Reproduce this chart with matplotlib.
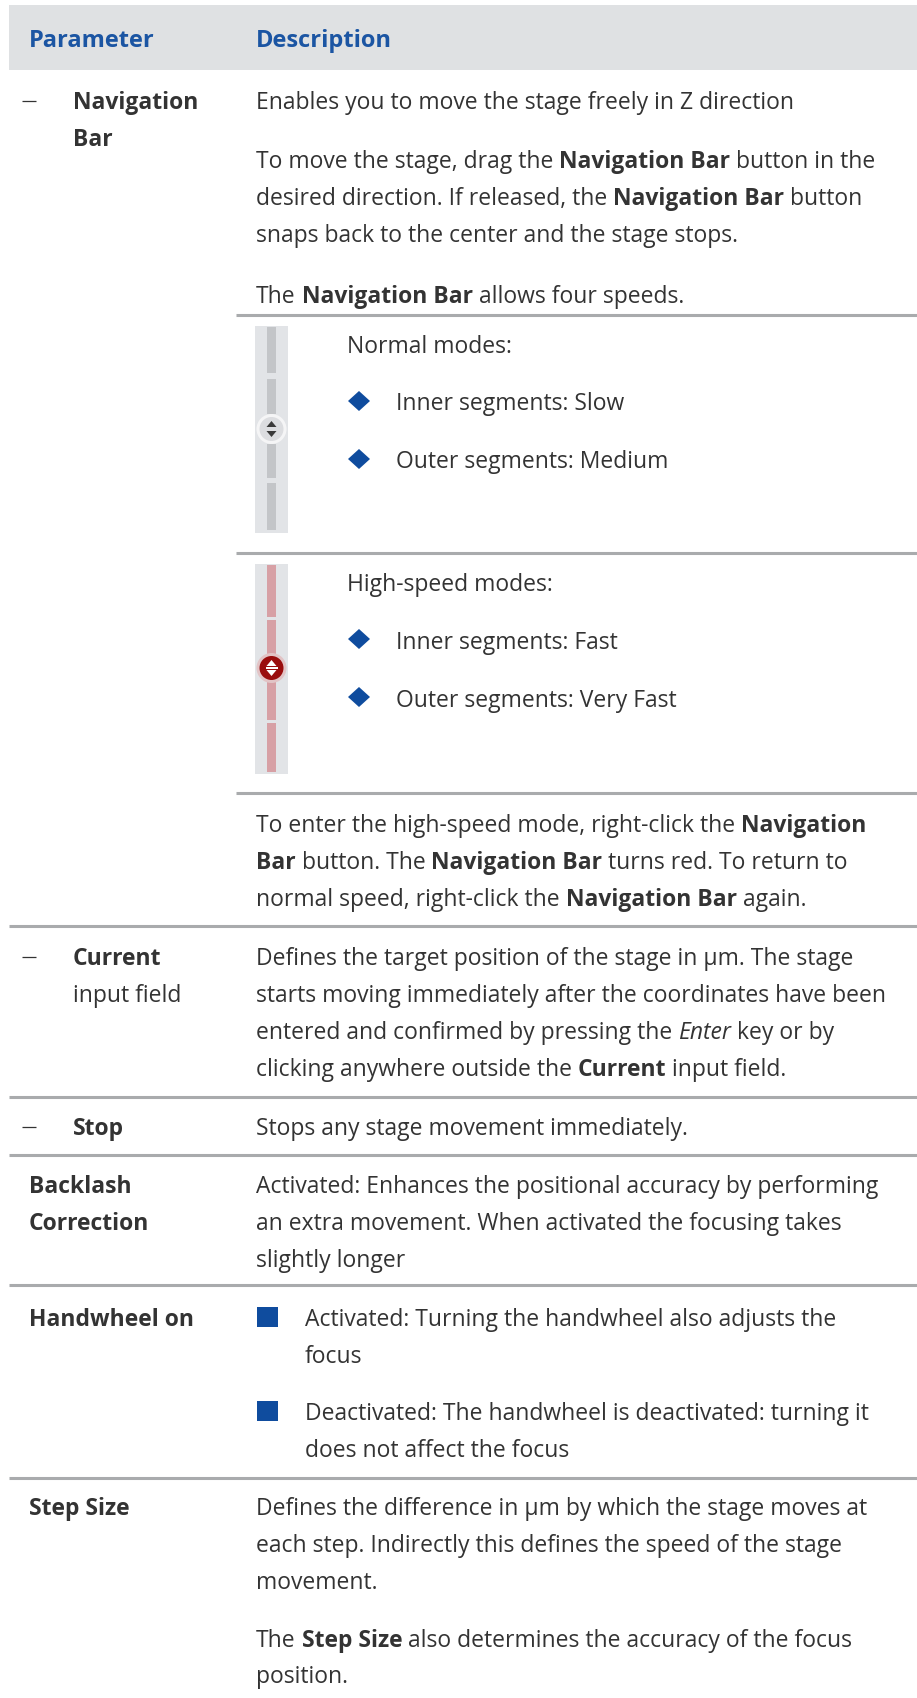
import matplotlib
matplotlib.use("Agg")
import matplotlib.pyplot as plt
from matplotlib.patches import Rectangle, Circle, Polygon

W, H = 917, 1698
TEXT = "#333333"
HEAD = "#1b55a3"
RULE = "#a9abad"
BAND = "#dfe1e3"
BULLET = "#0f4c9e"

plt.rcParams['font.family'] = ['Open Sans', 'DejaVu Sans']

# table content (runs: text, style  r=regular b=bold i=italic)
header = ["Parameter", "Description"]

nav_label = ["Navigation", "Bar"]
nav_desc = [
    [("Enables you to move the stage freely in Z direction", "r")],
    [("To move the stage, drag the ", "r"), ("Navigation Bar", "b"), (" button in the", "r")],
    [("desired direction. If released, the ", "r"), ("Navigation Bar", "b"), (" button", "r")],
    [("snaps back to the center and the stage stops.", "r")],
    [("The ", "r"), ("Navigation Bar", "b"), (" allows four speeds.", "r")],
]
normal_title = "Normal modes:"
normal_items = ["Inner segments: Slow", "Outer segments: Medium"]
fast_title = "High-speed modes:"
fast_items = ["Inner segments: Fast", "Outer segments: Very Fast"]
nav_outro = [
    [("To enter the high-speed mode, right-click the ", "r"), ("Navigation", "b")],
    [("Bar", "b"), (" button. The ", "r"), ("Navigation Bar", "b"), (" turns red. To return to", "r")],
    [("normal speed, right-click the ", "r"), ("Navigation Bar", "b"), (" again.", "r")],
]

cur_label = [("Current", "b"), ("input field", "r")]
cur_desc = [
    [("Defines the target position of the stage in µm. The stage", "r")],
    [("starts moving immediately after the coordinates have been", "r")],
    [("entered and confirmed by pressing the ", "r"), ("Enter", "i"), (" key or by", "r")],
    [("clicking anywhere outside the ", "r"), ("Current", "b"), (" input field.", "r")],
]

stop_label = "Stop"
stop_desc = "Stops any stage movement immediately."

back_label = ["Backlash", "Correction"]
back_desc = [
    "Activated: Enhances the positional accuracy by performing",
    "an extra movement. When activated the focusing takes",
    "slightly longer",
]

hand_label = "Handwheel on"
hand_items = [
    ["Activated: Turning the handwheel also adjusts the", "focus"],
    ["Deactivated: The handwheel is deactivated: turning it", "does not affect the focus"],
]

step_label = "Step Size"
step_desc = [
    [("Defines the difference in µm by which the stage moves at", "r")],
    [("each step. Indirectly this defines the speed of the stage", "r")],
    [("movement.", "r")],
]
step_extra = [
    [("The ", "r"), ("Step Size", "b"), (" also determines the accuracy of the focus", "r")],
    [("position.", "r")],
]

fig = plt.figure(figsize=(W / 100, H / 100), dpi=100)
ax = fig.add_axes([0, 0, 1, 1])
ax.set_xlim(0, W)
ax.set_ylim(H, 0)
ax.axis('off')
renderer = fig.canvas.get_renderer()

FS = 16.5
LH = 37
X_DESC = 256
X_PAR = 29
X_SUB = 73


def style_kw(st):
    if st == 'b':
        return dict(fontweight='bold')
    if st == 'i':
        return dict(fontstyle='italic')
    return {}


def width_of(s, kw, size):
    t = ax.text(0, 0, s, fontsize=size, **kw)
    w = t.get_window_extent(renderer).width
    t.remove()
    return w


def space_w(kw, size):
    return width_of("x x", kw, size) - width_of("xx", kw, size)


def draw_runs(x, y, runs, size=FS, color=TEXT):
    for txt, st in runs:
        kw = style_kw(st)
        if txt.startswith(' '):
            x += space_w(kw, size)
        core = txt.strip()
        if core:
            t = ax.text(x, y, core, fontsize=size, color=color,
                        va='baseline', ha='left', **kw)
            x += t.get_window_extent(renderer).width
        if txt.endswith(' '):
            x += space_w(kw, size)


def text(x, y, s, st='r', size=FS, color=TEXT):
    ax.text(x, y, s, fontsize=size, color=color, va='baseline', ha='left',
            **style_kw(st))


def dash(y):
    ax.plot([22, 36], [y - 8, y - 8], color=TEXT, lw=0.9, solid_capstyle='butt')


def rule(y, x0=9, x1=W):
    ax.plot([x0, x1], [y, y], color=RULE, lw=2.2, solid_capstyle='butt')


def diamond(cx, cy):
    ax.add_patch(Polygon([(cx - 11, cy), (cx, cy - 10), (cx + 11, cy), (cx, cy + 10)],
                         closed=True, color=BULLET, lw=0))


def slider(y0, y1, segs, ky, line_col, knob_col, arrow_col, halo_col):
    ax.add_patch(Rectangle((255, y0), 33, y1 - y0, color="#e2e4e7", lw=0))
    for a, b in segs:
        ax.add_patch(Rectangle((267, a), 9, b - a, color=line_col, lw=0))
    cx = 271.5
    ax.add_patch(Circle((cx, ky), 15, color=halo_col, lw=0))
    ax.add_patch(Circle((cx, ky), 12, color=knob_col, lw=0))
    ax.add_patch(Polygon([(cx - 5, ky - 2), (cx + 5, ky - 2), (cx, ky - 8)],
                         closed=True, color=arrow_col, lw=0))
    ax.add_patch(Polygon([(cx - 5, ky + 2), (cx + 5, ky + 2), (cx, ky + 8)],
                         closed=True, color=arrow_col, lw=0))


# header
ax.add_patch(Rectangle((9, 5), W - 9, 65, color=BAND, lw=0))
text(X_PAR, 47, header[0], 'b', size=17, color=HEAD)
text(X_DESC, 47, header[1], 'b', size=17, color=HEAD)

# Navigation Bar
dash(109)
text(X_SUB, 109, nav_label[0], 'b')
text(X_SUB, 146, nav_label[1], 'b')
draw_runs(X_DESC, 109, nav_desc[0])
for i, line in enumerate(nav_desc[1:4]):
    draw_runs(X_DESC, 168 + i * LH, line)
draw_runs(X_DESC, 303, nav_desc[4])
rule(315, 236)

slider(326, 533, [(327, 373), (379, 414), (444, 478), (483, 530)], 429,
       "#c3c5c8", "#dcdde0", "#3a3a3a", "#f5f5f6")
text(347, 353, normal_title)
for i, item in enumerate(normal_items):
    diamond(359, 401 + i * 58)
    text(396, 410 + i * 58, item)
rule(553, 236)

slider(564, 774, [(565, 617), (620, 655), (681, 720), (723, 772)], 668,
       "#d7a0a5", "#9a0d0d", "white", "#e2c4c6")
ax.add_patch(Rectangle((265.5, 667), 12, 2, color="white", lw=0))
text(347, 591, fast_title)
for i, item in enumerate(fast_items):
    diamond(359, 639 + i * 58)
    text(396, 649 + i * 58, item)
rule(793, 236)

for i, line in enumerate(nav_outro):
    draw_runs(X_DESC, 832 + i * LH, line)
rule(926)

# Current input field
dash(965)
text(X_SUB, 965, cur_label[0][0], 'b')
text(X_SUB, 1002, cur_label[1][0], 'r')
for i, line in enumerate(cur_desc):
    draw_runs(X_DESC, 965 + i * LH, line)
rule(1097)

# Stop
dash(1135)
text(X_SUB, 1135, stop_label, 'b')
text(X_DESC, 1135, stop_desc)
rule(1155)

# Backlash Correction
text(X_PAR, 1193, back_label[0], 'b')
text(X_PAR, 1230, back_label[1], 'b')
for i, line in enumerate(back_desc):
    text(X_DESC, 1193 + i * LH, line)
rule(1285)

# Handwheel on
text(X_PAR, 1326, hand_label, 'b')
for k, (top_y, item) in enumerate(zip([1326, 1420], hand_items)):
    ax.add_patch(Rectangle((257, top_y - 19), 21, 20, color=BULLET, lw=0))
    for j, line in enumerate(item):
        text(305, top_y + j * LH, line)
rule(1478)

# Step Size
text(X_PAR, 1515, step_label, 'b')
for i, line in enumerate(step_desc):
    draw_runs(X_DESC, 1515 + i * LH, line)
for i, line in enumerate(step_extra):
    draw_runs(X_DESC, 1647 + i * 36, line)

fig.savefig("out.png", dpi=100, facecolor="white")
